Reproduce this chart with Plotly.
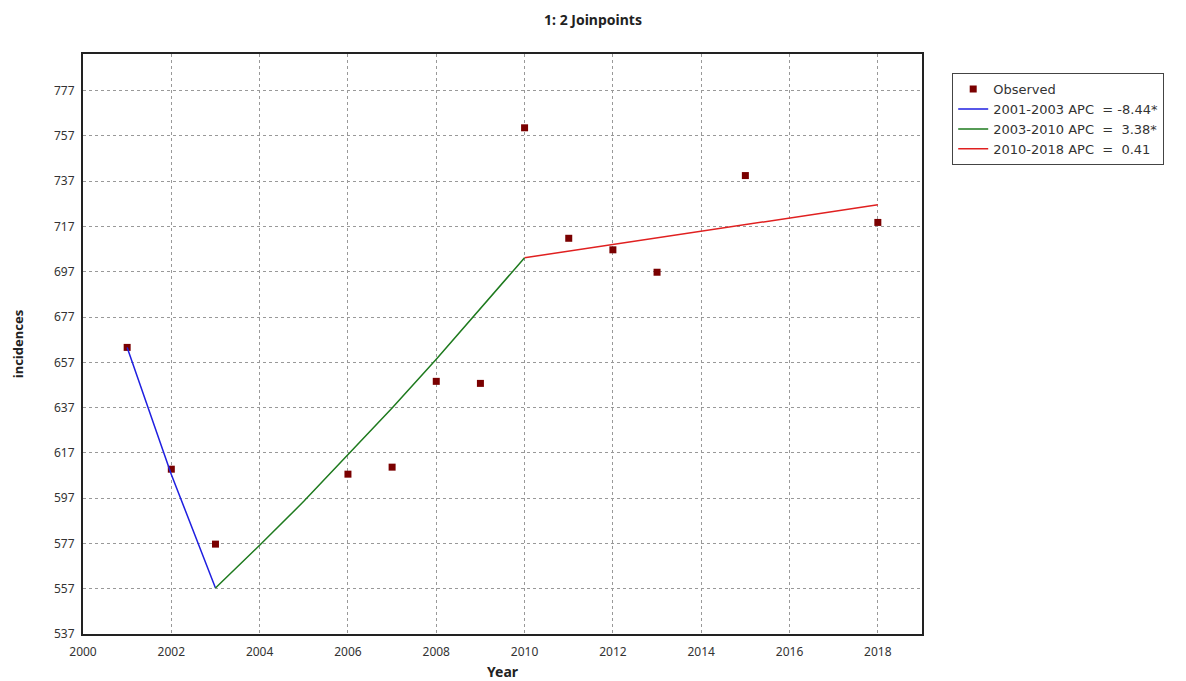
import plotly.graph_objects as go

obs_years = [2001, 2002, 2003, 2006, 2007, 2008, 2009, 2010, 2011, 2012, 2013, 2015, 2018]
obs_values = [663.6, 609.8, 576.7, 607.6, 610.7, 648.6, 647.7, 760.6, 711.8, 706.7, 696.8, 739.5, 718.8]

seg1_years = [2001, 2002, 2003]
seg1_values = [663.6, 607.5, 557.3]
seg2_years = [2003, 2004, 2005, 2006, 2007, 2008, 2009, 2010]
seg2_values = [557.3, 576.2, 595.6, 616.0, 636.8, 658.4, 680.6, 703.2]
seg3_years = [2010, 2011, 2012, 2013, 2014, 2015, 2016, 2017, 2018]
seg3_values = [703.2, 706.1, 709.0, 711.9, 714.8, 717.7, 720.7, 723.6, 726.6]

NB = "\u00a0"
seg_names = ["2001-2003 APC " + NB + "= -8.44*",
             "2003-2010 APC " + NB + "= " + NB + "3.38*",
             "2010-2018 APC " + NB + "= " + NB + "0.41"]
seg_colors = ["#1f1fe0", "#1e7a1e", "#e02020"]

y_ticks = [537, 557, 577, 597, 617, 637, 657, 677, 697, 717, 737, 757, 777]
x_ticks = [2000, 2002, 2004, 2006, 2008, 2010, 2012, 2014, 2016, 2018]

font = "Noto Sans"
fig = go.Figure()
fig.add_trace(go.Scatter(x=obs_years, y=obs_values, mode="markers", name="Observed",
                         marker=dict(symbol="square", size=7, color="#7a0000")))
for yrs, vals, nm, col in zip([seg1_years, seg2_years, seg3_years],
                              [seg1_values, seg2_values, seg3_values], seg_names, seg_colors):
    fig.add_trace(go.Scatter(x=yrs, y=vals, mode="lines", name=nm,
                             line=dict(color=col, width=1.5)))

fig.update_layout(
    width=1186, height=681,
    paper_bgcolor="white", plot_bgcolor="white",
    margin=dict(l=83, r=264, t=54, b=47, autoexpand=False),
    font=dict(family=font, size=12, color="#333"),
    title=dict(text="<b>1: 2 Joinpoints</b>", x=0.5, xref="container", xanchor="center",
               y=1 - 20 / 681, yref="container", yanchor="middle",
               font=dict(size=14, color="#222", family=font)),
    showlegend=True,
    legend=dict(x=1.036, y=0.967, xanchor="left", yanchor="top",
                bordercolor="#444", borderwidth=1, bgcolor="white",
                font=dict(size=13, color="#333", family="DejaVu Sans"), tracegroupgap=0,
                itemwidth=30),
)
fig.update_xaxes(range=[2000, 2019], tickvals=x_ticks, showgrid=True,
                 gridcolor="#999", griddash="dot", gridwidth=1,
                 showline=True, linecolor="#222", linewidth=2, mirror=True,
                 ticks="", zeroline=False, automargin=False, ticklabelstandoff=6,
                 title=dict(text="<b>Year</b>", font=dict(size=14, color="#222"), standoff=12))
fig.update_yaxes(range=[537, 793.2], tickvals=y_ticks, showgrid=True,
                 gridcolor="#999", griddash="dot", gridwidth=1,
                 showline=True, linecolor="#222", linewidth=2, mirror=True,
                 ticks="", zeroline=False, automargin=False, ticklabelstandoff=4,
                 title=dict(text="<b>incidences</b>", font=dict(size=13, color="#222"), standoff=27))

fig.write_html("out.html", config={"displayModeBar": False},
               post_script="document.body.style.margin='0';")
